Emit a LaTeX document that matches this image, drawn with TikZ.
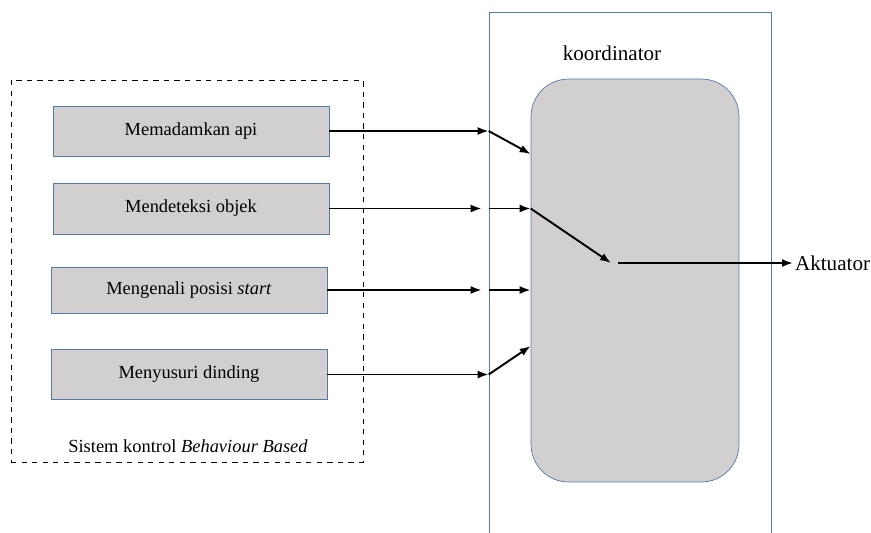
\documentclass[tikz,border=0pt]{standalone}
\usepackage{fontspec}
\setmainfont{Liberation Serif}
\usetikzlibrary{positioning,arrows.meta}
\definecolor{frameblue}{RGB}{84,122,168}
\definecolor{boxgray}{RGB}{209,207,207}
\tikzset{
  behbox/.style={draw=frameblue,fill=boxgray,minimum width=5.52cm,minimum height=1.0cm,font=\fontsize{10.5}{12}\selectfont},
  lineArrow/.style={-{Latex[length=2.2mm,width=1.6mm]},line width=1.1pt}
}

\begin{document}
\begin{tikzpicture}[x=0.02cm,y=-0.02cm]
\useasboundingbox (0,0) rectangle (871,532);
%% frames
\node [draw,dashed,thin,minimum width=7.04cm,minimum height=7.64cm] (sysFrame) at (187,271) {};
\node [draw=frameblue,minimum width=5.64cm,minimum height=10.8cm] (koordFrame) at (630,282) {};
\node [draw=frameblue,fill=boxgray,rounded corners=0.75cm,minimum width=4.16cm,minimum height=8.06cm] (koordBox) at (635,280.5) {};
%the nodes
\node [behbox] (behApi) at (191,131) {Memadamkan api};
\node [behbox,minimum height=1.02cm] (behObjek) at (191,208.5) {Mendeteksi objek};
\node [behbox,minimum height=0.92cm] (behStart) at (189,290) {Mengenali posisi \textit{start}};
\node [behbox] (behDinding) at (189,374.5) {Menyusuri dinding};
\node [font=\fontsize{10.5}{12}\selectfont] (sysLabel) at (188,446) {Sistem kontrol \textit{Behaviour Based}};
\node [font=\fontsize{12}{14}\selectfont] (koordLabel) at (612,53) {koordinator};
\node [font=\fontsize{12}{14}\selectfont,anchor=west,inner sep=1pt] (aktuator) at (793,263) {Aktuator};
%points on the frames
\coordinate (inApi) at (koordFrame.west |- behApi.east);
\coordinate (inObjek) at (koordFrame.west |- behObjek.east);
\coordinate (inStart) at (koordFrame.west |- behStart.east);
\coordinate (inDinding) at (koordFrame.west |- behDinding.east);
\coordinate (boxApi) at (koordBox.west |- 0,154);
\coordinate (boxObjek) at (koordBox.west |- behObjek.east);
\coordinate (boxStart) at (koordBox.west |- behStart.east);
\coordinate (boxDinding) at (koordBox.west |- 0,346);
\coordinate (koordMid) at (611,263);
%drawings of lines
\draw[lineArrow] (behApi.east) -- (inApi);
\draw[lineArrow] (inApi) -- (boxApi);
\draw[lineArrow] (behObjek.east) -- ([xshift=-4]inObjek);
\draw[lineArrow] (inObjek) -- (boxObjek);
\draw[lineArrow] (boxObjek) -- (koordMid);
\draw[lineArrow] (behStart.east) -- ([xshift=-4]inStart);
\draw[lineArrow] (inStart) -- (boxStart);
\draw[lineArrow] (behDinding.east) -- (inDinding);
\draw[lineArrow] (inDinding) -- (boxDinding);

\draw[lineArrow] ([xshift=4]koordMid) -- (aktuator.west);
\end{tikzpicture}
\end{document}
